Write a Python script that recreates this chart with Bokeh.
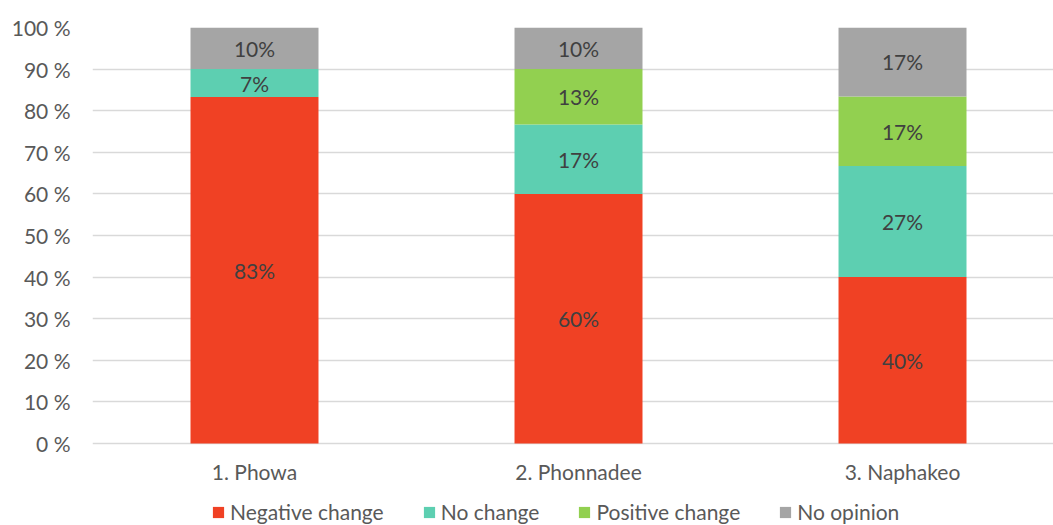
from bokeh.plotting import figure
from bokeh.models import ColumnDataSource, FixedTicker, Range1d, Legend, LegendItem
from bokeh.core.properties import value
from bokeh.embed import file_html
from bokeh.resources import INLINE

# Survey answers per village, in percent of respondents
villages = ["1. Phowa", "2. Phonnadee", "3. Naphakeo"]
negative_change = [83.3, 60.0, 40.0]
no_change = [6.7, 16.7, 26.7]
positive_change = [0.0, 13.3, 16.7]
no_opinion = [10.0, 10.0, 16.7]

series_names = ["Negative change", "No change", "Positive change", "No opinion"]
series_values = [negative_change, no_change, positive_change, no_opinion]
colors = ["#F04124", "#5DCFB1", "#92D050", "#A5A5A5"]
y_ticks = list(range(0, 101, 10))

FONT = "Lato"
FS = "21px"
x_pos = [i + 0.5 for i in range(len(villages))]

data = {"x": x_pos}
for name, vals in zip(series_names, series_values):
    data[name] = vals
source = ColumnDataSource(data)

# the frame reaches down to the bottom edge so the category labels and the
# legend row can live under the zero line
p = figure(frame_width=961, frame_height=498, output_backend="svg", toolbar_location=None,
           x_range=Range1d(0, 2.966), y_range=Range1d(-19.7, 100),
           min_border_left=92, min_border_right=0, min_border_top=27, min_border_bottom=0)
p.outline_line_color = None
p.background_fill_color = "white"

renderers = p.vbar_stack(series_names, x="x", width=0.395, source=source,
                         color=colors, line_color=None)

# centred value labels inside each segment
lx, ly, lt = [], [], []
for j, x in enumerate(x_pos):
    base = 0.0
    for vals in series_values:
        v = vals[j]
        if v > 0:
            lx.append(x)
            ly.append(base + v / 2)
            lt.append(f"{v:.0f}%")
        base += v
p.text(x=lx, y=ly, text=lt, text_align="center", text_baseline="middle",
       text_font=value(FONT), text_font_size=FS, text_color="#404040")

# axes
p.xaxis.ticker = FixedTicker(ticks=x_pos)
p.xaxis.major_label_overrides = {x: v for x, v in zip(x_pos, villages)}
p.xaxis.fixed_location = 0
p.yaxis.ticker = FixedTicker(ticks=y_ticks)
p.yaxis.major_label_overrides = {t: f"{t} %" for t in y_ticks}
for ax in (p.xaxis[0], p.yaxis[0]):
    ax.axis_line_color = None
    ax.major_tick_line_color = None
    ax.minor_tick_line_color = None
    ax.major_tick_out = 0
    ax.major_tick_in = 0
    ax.minor_tick_out = 0
    ax.major_label_text_font = FONT
    ax.major_label_text_font_size = FS
    ax.major_label_text_color = "#595959"
p.yaxis.major_label_standoff = 22
p.xaxis.major_label_standoff = 15

p.xgrid.grid_line_color = None
p.ygrid.grid_line_color = "#D9D9D9"
p.ygrid.grid_line_width = 1.5

# legend row under the category labels
legend = Legend(items=[LegendItem(label=n, renderers=[r]) for n, r in zip(series_names, renderers)],
                orientation="horizontal", nrows=1, location=(119, 1),
                label_text_font=FONT, label_text_font_size=FS, label_text_color="#595959",
                glyph_width=14, glyph_height=14, spacing=38, padding=0, margin=0,
                label_standoff=5, label_height=20, border_line_color=None,
                background_fill_alpha=0)
p.add_layout(legend, "center")

open("out.html", "w").write(file_html(p, INLINE))
